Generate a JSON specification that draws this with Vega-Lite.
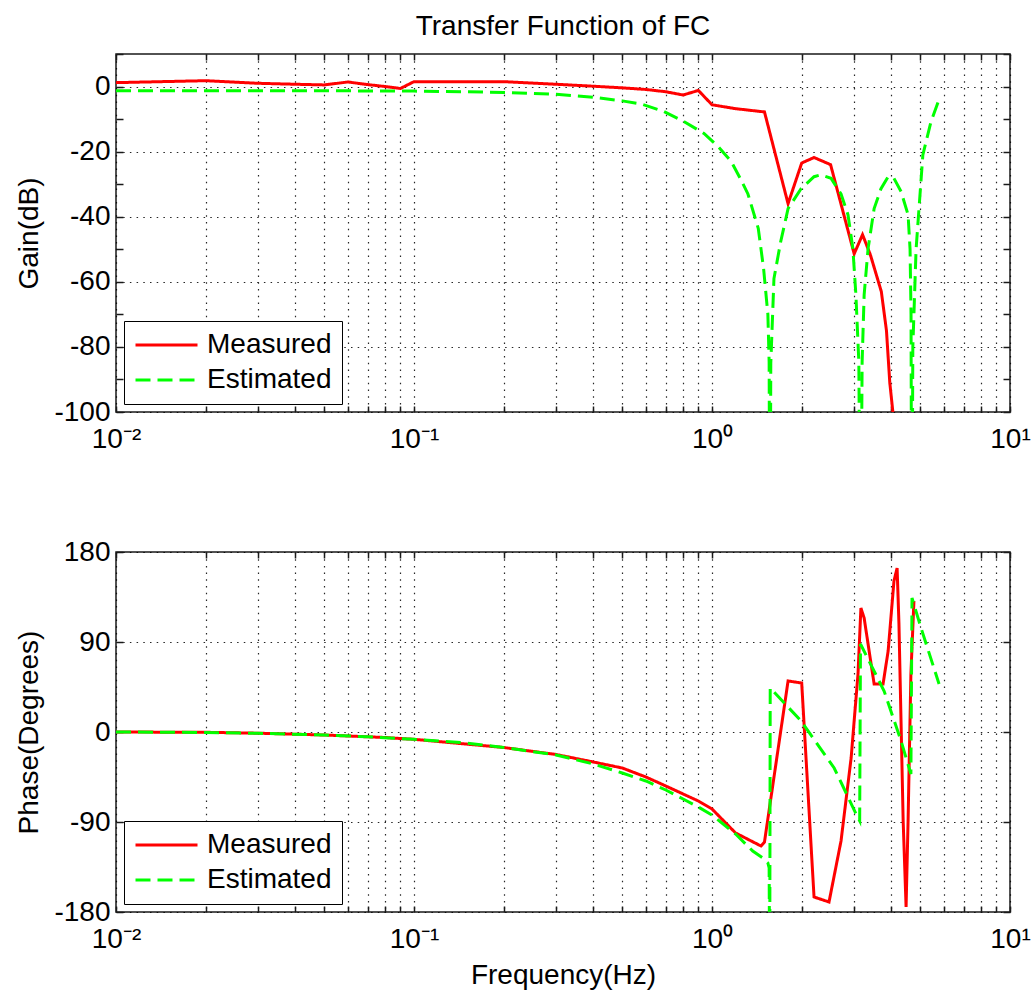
{
  "$schema": "https://vega.github.io/schema/vega-lite/v6.json",
  "background": "white",
  "padding": {"left": 15, "top": 11, "right": 0, "bottom": 0},
  "spacing": 140,
  "bounds": "flush",
  "config": {
    "font": "Liberation Sans",
    "view": {"stroke": "#1a1a1a", "strokeWidth": 1.5},
    "axis": {
      "labelFont": "Liberation Sans", "labelFontSize": 28, "labelColor": "#000",
      "titleFont": "Liberation Sans", "titleFontSize": 28, "titleFontWeight": "normal", "titleColor": "#000",
      "domain": false, "tickColor": "#1a1a1a", "tickWidth": 1.5,
      "gridColor": "#000", "gridDash": [1.5, 5.2], "gridWidth": 1.2,
      "labelFlush": false, "labelOverlap": false
    },
    "legend": {
      "orient": "bottom-left", "offset": 8, "fillColor": "#ffffff", "strokeColor": "#000000",
      "padding": 10, "labelFont": "Liberation Sans", "labelFontSize": 28, "labelColor": "#000",
      "symbolType": "stroke", "symbolSize": 3844, "symbolStrokeWidth": 3, "rowPadding": 7,
      "clipHeight": 28, "labelOffset": 8, "labelLimit": 300
    },
    "title": {"font": "Liberation Sans", "fontSize": 28, "fontWeight": "normal", "color": "#000", "anchor": "middle", "frame": "group", "offset": -0.5}
  },
  "resolve": {"scale": {"color": "independent", "strokeDash": "independent"}, "legend": {"color": "independent", "strokeDash": "independent"}},
  "datasets": {
    "gain": [
      {"f": 0.01, "v": 1.2, "s": "Measured"},
      {"f": 0.02, "v": 1.8, "s": "Measured"},
      {"f": 0.03, "v": 1.0, "s": "Measured"},
      {"f": 0.04, "v": 0.7, "s": "Measured"},
      {"f": 0.05, "v": 0.5, "s": "Measured"},
      {"f": 0.06, "v": 1.4, "s": "Measured"},
      {"f": 0.07, "v": 0.6, "s": "Measured"},
      {"f": 0.08, "v": 0.0, "s": "Measured"},
      {"f": 0.09, "v": -0.6, "s": "Measured"},
      {"f": 0.1, "v": 1.5, "s": "Measured"},
      {"f": 0.2, "v": 1.5, "s": "Measured"},
      {"f": 0.3, "v": 0.7, "s": "Measured"},
      {"f": 0.4, "v": 0.1, "s": "Measured"},
      {"f": 0.5, "v": -0.4, "s": "Measured"},
      {"f": 0.6, "v": -0.9, "s": "Measured"},
      {"f": 0.7, "v": -1.6, "s": "Measured"},
      {"f": 0.8, "v": -2.6, "s": "Measured"},
      {"f": 0.9, "v": -1.2, "s": "Measured"},
      {"f": 1.0, "v": -5.6, "s": "Measured"},
      {"f": 1.2, "v": -6.8, "s": "Measured"},
      {"f": 1.5, "v": -7.8, "s": "Measured"},
      {"f": 1.8, "v": -36, "s": "Measured"},
      {"f": 2.0, "v": -23.5, "s": "Measured"},
      {"f": 2.2, "v": -21.8, "s": "Measured"},
      {"f": 2.5, "v": -24, "s": "Measured"},
      {"f": 3.0, "v": -51.4, "s": "Measured"},
      {"f": 3.2, "v": -45.5, "s": "Measured"},
      {"f": 3.4, "v": -51.7, "s": "Measured"},
      {"f": 3.7, "v": -63, "s": "Measured"},
      {"f": 3.85, "v": -75, "s": "Measured"},
      {"f": 3.95, "v": -91, "s": "Measured"},
      {"f": 4.1, "v": -105, "s": "Measured"},
      {"f": 4.4, "v": -130, "s": "Measured"},
      {"f": 4.7, "v": -125, "s": "Measured"},
      {"f": 0.01, "v": -1.3, "s": "Estimated"},
      {"f": 0.03, "v": -1.3, "s": "Estimated"},
      {"f": 0.05, "v": -1.3, "s": "Estimated"},
      {"f": 0.1, "v": -1.4, "s": "Estimated"},
      {"f": 0.15, "v": -1.6, "s": "Estimated"},
      {"f": 0.2, "v": -1.8, "s": "Estimated"},
      {"f": 0.3, "v": -2.4, "s": "Estimated"},
      {"f": 0.41, "v": -3.4, "s": "Estimated"},
      {"f": 0.5, "v": -4.4, "s": "Estimated"},
      {"f": 0.58, "v": -5.4, "s": "Estimated"},
      {"f": 0.69, "v": -7.7, "s": "Estimated"},
      {"f": 0.8, "v": -10.6, "s": "Estimated"},
      {"f": 0.94, "v": -14.4, "s": "Estimated"},
      {"f": 1.05, "v": -18.5, "s": "Estimated"},
      {"f": 1.16, "v": -23, "s": "Estimated"},
      {"f": 1.25, "v": -28.6, "s": "Estimated"},
      {"f": 1.32, "v": -33, "s": "Estimated"},
      {"f": 1.43, "v": -43.6, "s": "Estimated"},
      {"f": 1.49, "v": -56, "s": "Estimated"},
      {"f": 1.54, "v": -70, "s": "Estimated"},
      {"f": 1.555, "v": -84.6, "s": "Estimated"},
      {"f": 1.565, "v": -160, "s": "Estimated"},
      {"f": 1.575, "v": -85, "s": "Estimated"},
      {"f": 1.614, "v": -59, "s": "Estimated"},
      {"f": 1.7, "v": -47.7, "s": "Estimated"},
      {"f": 1.8, "v": -37.5, "s": "Estimated"},
      {"f": 1.99, "v": -31.4, "s": "Estimated"},
      {"f": 2.2, "v": -27.7, "s": "Estimated"},
      {"f": 2.32, "v": -27.1, "s": "Estimated"},
      {"f": 2.51, "v": -28.2, "s": "Estimated"},
      {"f": 2.71, "v": -33, "s": "Estimated"},
      {"f": 2.86, "v": -39.4, "s": "Estimated"},
      {"f": 2.97, "v": -49.8, "s": "Estimated"},
      {"f": 3.04, "v": -64, "s": "Estimated"},
      {"f": 3.11, "v": -84.6, "s": "Estimated"},
      {"f": 3.15, "v": -160, "s": "Estimated"},
      {"f": 3.19, "v": -84.6, "s": "Estimated"},
      {"f": 3.24, "v": -64, "s": "Estimated"},
      {"f": 3.34, "v": -49.8, "s": "Estimated"},
      {"f": 3.5, "v": -37.5, "s": "Estimated"},
      {"f": 3.69, "v": -31.4, "s": "Estimated"},
      {"f": 3.9, "v": -27.7, "s": "Estimated"},
      {"f": 4.08, "v": -28.2, "s": "Estimated"},
      {"f": 4.31, "v": -32.3, "s": "Estimated"},
      {"f": 4.55, "v": -39.4, "s": "Estimated"},
      {"f": 4.62, "v": -50, "s": "Estimated"},
      {"f": 4.655, "v": -70, "s": "Estimated"},
      {"f": 4.68, "v": -160, "s": "Estimated"},
      {"f": 4.72, "v": -80, "s": "Estimated"},
      {"f": 4.84, "v": -50, "s": "Estimated"},
      {"f": 4.95, "v": -37.5, "s": "Estimated"},
      {"f": 5.1, "v": -21, "s": "Estimated"},
      {"f": 5.43, "v": -10.8, "s": "Estimated"},
      {"f": 5.78, "v": -4, "s": "Estimated"}
    ],
    "phase": [
      {"f": 0.01, "v": 0, "s": "Measured"},
      {"f": 0.02, "v": -0.3, "s": "Measured"},
      {"f": 0.03, "v": -1.2, "s": "Measured"},
      {"f": 0.04, "v": -2.2, "s": "Measured"},
      {"f": 0.05, "v": -3, "s": "Measured"},
      {"f": 0.06, "v": -4, "s": "Measured"},
      {"f": 0.07, "v": -4.8, "s": "Measured"},
      {"f": 0.08, "v": -5.5, "s": "Measured"},
      {"f": 0.09, "v": -6.5, "s": "Measured"},
      {"f": 0.1, "v": -7.3, "s": "Measured"},
      {"f": 0.2, "v": -15.5, "s": "Measured"},
      {"f": 0.3, "v": -22.5, "s": "Measured"},
      {"f": 0.4, "v": -30, "s": "Measured"},
      {"f": 0.5, "v": -36, "s": "Measured"},
      {"f": 0.6, "v": -45, "s": "Measured"},
      {"f": 0.7, "v": -54, "s": "Measured"},
      {"f": 0.8, "v": -62, "s": "Measured"},
      {"f": 0.9, "v": -69, "s": "Measured"},
      {"f": 1.0, "v": -77, "s": "Measured"},
      {"f": 1.2, "v": -101, "s": "Measured"},
      {"f": 1.46, "v": -114, "s": "Measured"},
      {"f": 1.5, "v": -110, "s": "Measured"},
      {"f": 1.8, "v": 51, "s": "Measured"},
      {"f": 2.0, "v": 49, "s": "Measured"},
      {"f": 2.2, "v": -165, "s": "Measured"},
      {"f": 2.47, "v": -170, "s": "Measured"},
      {"f": 2.71, "v": -109, "s": "Measured"},
      {"f": 2.93, "v": -26, "s": "Measured"},
      {"f": 3.09, "v": 58, "s": "Measured"},
      {"f": 3.16, "v": 124, "s": "Measured"},
      {"f": 3.24, "v": 114, "s": "Measured"},
      {"f": 3.5, "v": 48, "s": "Measured"},
      {"f": 3.75, "v": 48, "s": "Measured"},
      {"f": 3.9, "v": 81, "s": "Measured"},
      {"f": 4.08, "v": 151, "s": "Measured"},
      {"f": 4.18, "v": 164, "s": "Measured"},
      {"f": 4.24, "v": 108, "s": "Measured"},
      {"f": 4.38, "v": -89, "s": "Measured"},
      {"f": 4.48, "v": -175, "s": "Measured"},
      {"f": 4.55, "v": -89, "s": "Measured"},
      {"f": 4.65, "v": 58, "s": "Measured"},
      {"f": 4.76, "v": 131, "s": "Measured"},
      {"f": 0.01, "v": 0, "s": "Estimated"},
      {"f": 0.02, "v": -0.5, "s": "Estimated"},
      {"f": 0.03, "v": -1.3, "s": "Estimated"},
      {"f": 0.05, "v": -3, "s": "Estimated"},
      {"f": 0.07, "v": -4.8, "s": "Estimated"},
      {"f": 0.1, "v": -7.3, "s": "Estimated"},
      {"f": 0.15, "v": -11, "s": "Estimated"},
      {"f": 0.2, "v": -15.5, "s": "Estimated"},
      {"f": 0.3, "v": -23, "s": "Estimated"},
      {"f": 0.4, "v": -32, "s": "Estimated"},
      {"f": 0.5, "v": -41, "s": "Estimated"},
      {"f": 0.6, "v": -49, "s": "Estimated"},
      {"f": 0.7, "v": -58, "s": "Estimated"},
      {"f": 0.8, "v": -67, "s": "Estimated"},
      {"f": 0.9, "v": -75, "s": "Estimated"},
      {"f": 1.0, "v": -83, "s": "Estimated"},
      {"f": 1.2, "v": -102, "s": "Estimated"},
      {"f": 1.37, "v": -119, "s": "Estimated"},
      {"f": 1.48, "v": -126, "s": "Estimated"},
      {"f": 1.54, "v": -131, "s": "Estimated"},
      {"f": 1.555, "v": -136, "s": "Estimated"},
      {"f": 1.562, "v": -260, "s": "Estimated"},
      {"f": 1.568, "v": 44, "s": "Estimated"},
      {"f": 1.99, "v": 11, "s": "Estimated"},
      {"f": 2.57, "v": -36, "s": "Estimated"},
      {"f": 3.09, "v": -86, "s": "Estimated"},
      {"f": 3.13, "v": -89, "s": "Estimated"},
      {"f": 3.15, "v": 88, "s": "Estimated"},
      {"f": 3.78, "v": 41, "s": "Estimated"},
      {"f": 4.31, "v": -9, "s": "Estimated"},
      {"f": 4.65, "v": -42, "s": "Estimated"},
      {"f": 4.69, "v": 134, "s": "Estimated"},
      {"f": 5.03, "v": 104, "s": "Estimated"},
      {"f": 5.78, "v": 48, "s": "Estimated"}
    ]
  },
  "vconcat": [
    {
      "width": 894,
      "height": 358,
      "title": {"text": "Transfer Function of FC"},
      "data": {"name": "gain"},
      "resolve": {"axis": {"x": "independent", "y": "independent"}},
      "layer": [
        {
          "mark": {"type": "line", "clip": true, "strokeWidth": 3},
          "encoding": {
            "x": {"field": "f", "type": "quantitative", "scale": {"type": "log", "domain": [0.01, 10]},
              "axis": {"orient": "bottom", "title": null, "values": [0.01,0.02,0.03,0.04,0.05,0.06,0.07,0.08,0.09,0.1,0.2,0.3,0.4,0.5,0.6,0.7,0.8,0.9,1,2,3,4,5,6,7,8,9,10],
                "labelExpr": "datum.value == 0.01 ? '10⁻²' : datum.value == 0.1 ? '10⁻¹' : datum.value == 1 ? '10⁰' : datum.value == 10 ? '10¹' : ''",
                "grid": true, "gridOpacity": 0.85, "tickSize": -6, "labelPadding": 19}},
            "y": {"field": "v", "type": "quantitative", "scale": {"domain": [-100, 10], "nice": false, "zero": false},
              "axis": {"orient": "left", "title": "Gain(dB)", "values": [-100,-90,-80,-70,-60,-50,-40,-30,-20,-10,0,10],
                "labelExpr": "datum.value % 20 == 0 ? replace(datum.label, '−', '-') : ''",
                "grid": true, "gridOpacity": {"condition": {"test": "datum.value % 20 == 0", "value": 0.85}, "value": 0},
                "tickSize": -7, "labelPadding": 13, "titlePadding": 10}},
            "color": {"field": "s", "type": "nominal", "scale": {"domain": ["Measured", "Estimated"], "range": ["#ff0000", "#00ff00"]}, "legend": {"title": null}},
            "strokeDash": {"field": "s", "type": "nominal", "scale": {"domain": ["Measured", "Estimated"], "range": [[1, 0], [15, 7]]}, "legend": {"title": null}}
          }
        },
        {
          "mark": {"type": "point", "opacity": 0, "size": 0},
          "encoding": {
            "x": {"field": "f", "type": "quantitative",
              "axis": {"orient": "top", "title": null, "labels": false, "grid": false, "tickSize": -6, "values": [0.01,0.02,0.03,0.04,0.05,0.06,0.07,0.08,0.09,0.1,0.2,0.3,0.4,0.5,0.6,0.7,0.8,0.9,1,2,3,4,5,6,7,8,9,10]}},
            "y": {"field": "v", "type": "quantitative",
              "axis": {"orient": "right", "title": null, "labels": false, "grid": false, "tickSize": -7, "values": [-100,-90,-80,-70,-60,-50,-40,-30,-20,-10,0,10]}}
          }
        }
      ]
    },
    {
      "width": 894,
      "height": 360,
      "data": {"name": "phase"},
      "resolve": {"axis": {"x": "independent", "y": "independent"}},
      "layer": [
        {
          "mark": {"type": "line", "clip": true, "strokeWidth": 3},
          "encoding": {
            "x": {"field": "f", "type": "quantitative", "scale": {"type": "log", "domain": [0.01, 10]},
              "axis": {"orient": "bottom", "title": "Frequency(Hz)", "titlePadding": 8, "values": [0.01,0.02,0.03,0.04,0.05,0.06,0.07,0.08,0.09,0.1,0.2,0.3,0.4,0.5,0.6,0.7,0.8,0.9,1,2,3,4,5,6,7,8,9,10],
                "labelExpr": "datum.value == 0.01 ? '10⁻²' : datum.value == 0.1 ? '10⁻¹' : datum.value == 1 ? '10⁰' : datum.value == 10 ? '10¹' : ''",
                "grid": true, "gridOpacity": 0.85, "tickSize": -6, "labelPadding": 19}},
            "y": {"field": "v", "type": "quantitative", "scale": {"domain": [-180, 180], "nice": false, "zero": false},
              "axis": {"orient": "left", "title": "Phase(Degrees)", "values": [-180, -90, 0, 90, 180],
                "labelExpr": "replace(datum.label, '−', '-')",
                "grid": true, "gridOpacity": 0.85, "tickSize": -7, "labelPadding": 13, "titlePadding": 10}},
            "color": {"field": "s", "type": "nominal", "scale": {"domain": ["Measured", "Estimated"], "range": ["#ff0000", "#00ff00"]}, "legend": {"title": null}},
            "strokeDash": {"field": "s", "type": "nominal", "scale": {"domain": ["Measured", "Estimated"], "range": [[1, 0], [15, 7]]}, "legend": {"title": null}}
          }
        },
        {
          "mark": {"type": "point", "opacity": 0, "size": 0},
          "encoding": {
            "x": {"field": "f", "type": "quantitative",
              "axis": {"orient": "top", "title": null, "labels": false, "grid": false, "tickSize": -6, "values": [0.01,0.02,0.03,0.04,0.05,0.06,0.07,0.08,0.09,0.1,0.2,0.3,0.4,0.5,0.6,0.7,0.8,0.9,1,2,3,4,5,6,7,8,9,10]}},
            "y": {"field": "v", "type": "quantitative",
              "axis": {"orient": "right", "title": null, "labels": false, "grid": false, "tickSize": -7, "values": [-180, -90, 0, 90, 180]}}
          }
        }
      ]
    }
  ]
}
